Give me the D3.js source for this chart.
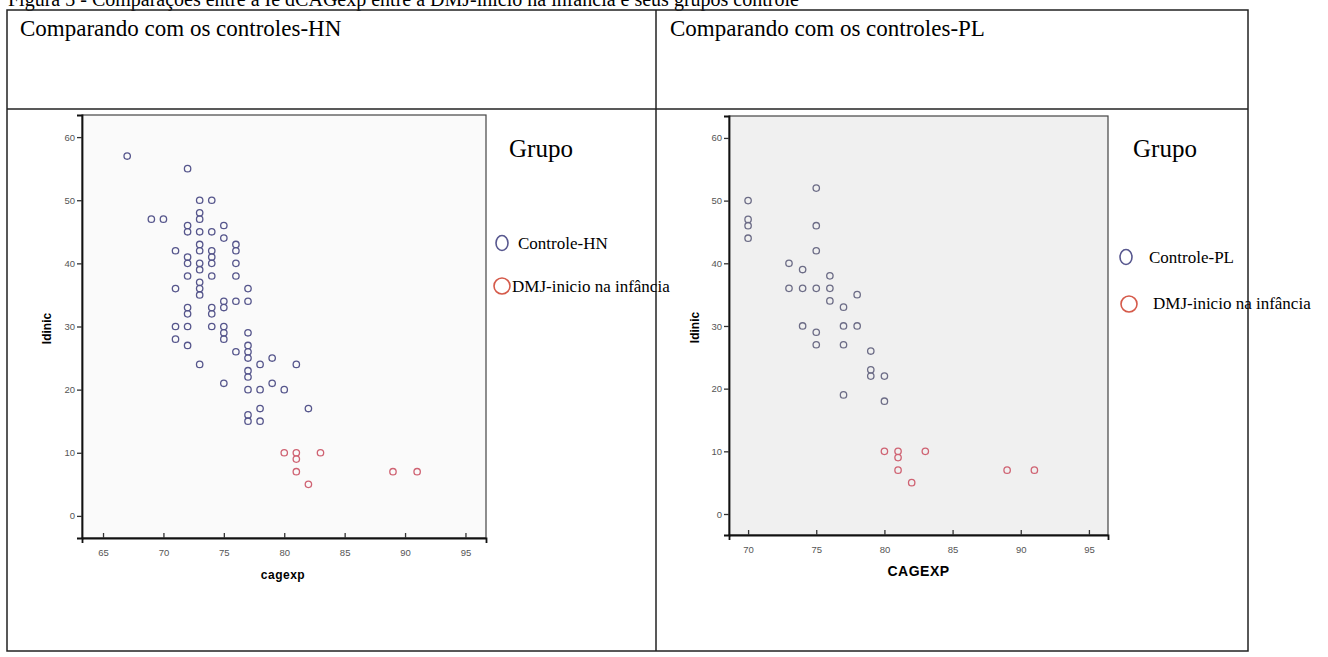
<!DOCTYPE html>
<html>
<head>
<meta charset="utf-8">
<script src="https://cdn.jsdelivr.net/npm/d3@7"></script>
<style>
	body { margin:0; background:#fff; }
	svg { display:block; }
</style>
</head>
<body>
<svg id="fig" width="1328" height="657"></svg>
<script>
// values
const hnControlCagexp = [67,72,73,74,69,70,73,73,72,72,73,74,75,75,71,72,72,73,73,73,73,74,74,74,72,73,73,73,74,76,76,76,76,71,77,75,75,76,77,72,72,74,74,71,72,74,75,75,75,71,72,77,76,77,77,77,73,78,79,81,77,77,75,77,78,79,80,78,82,77,77,78];
const hnControlIdinic = [57,55,50,50,47,47,48,47,46,45,45,45,46,44,42,41,40,43,42,40,39,42,41,40,38,37,36,35,38,43,42,40,38,36,36,34,33,34,34,33,32,33,32,30,30,30,30,29,28,28,27,29,26,27,26,25,24,24,25,24,23,22,21,20,20,21,20,17,17,16,15,15];

const plControlCagexp = [70,70,70,70,75,75,75,73,74,76,73,74,75,76,76,78,77,74,77,78,75,75,77,79,79,79,80,77,80];
const plControlIdinic = [50,47,46,44,52,46,42,40,39,38,36,36,36,36,34,35,33,30,30,30,29,27,27,26,23,22,22,19,18];

const dmjCagexp = [80,81,81,83,81,82,89,91];
const dmjIdinic = [10,10,9,10,7,5,7,7];

const yTicks = [0,10,20,30,40,50,60];
const xTicksHN = [65,70,75,80,85,90,95];
const xTicksPL = [70,75,80,85,90,95];

const captionText = "Figura 3 - Comparações entre a Ie dCAGexp entre a DMJ-início na infância e seus grupos controle";
const panelTitles = ["Comparando com os controles-HN","Comparando com os controles-PL"];
const legendTitle = "Grupo";
const legendHN = ["Controle-HN","DMJ-inicio na infância"];
const legendPL = ["Controle-PL","DMJ-inicio na infância"];

(function () {
	let svg = d3.select("#fig");
	let serif = "'Liberation Serif','Times New Roman',serif";
	let sans = "Arial,'Liberation Sans',sans-serif";

	// caption, cut off by the top of the page as in the scan
	svg.append("text")
		.attr("x",8).attr("y",6)
		.style("font-family",serif).style("font-size","20px")
		.text(captionText);

	// table grid
	let table = {left:7, top:10, right:1248, bottom:651, header:109, mid:656};
	svg.append("rect")
		.attr("x",table.left).attr("y",table.top)
		.attr("width",table.right-table.left).attr("height",table.bottom-table.top)
		.attr("fill","none").attr("stroke","#222").attr("stroke-width",1.5);
	svg.append("line")
		.attr("x1",table.left).attr("x2",table.right)
		.attr("y1",table.header).attr("y2",table.header)
		.attr("stroke","#222").attr("stroke-width",1.5);
	svg.append("line")
		.attr("x1",table.mid).attr("x2",table.mid)
		.attr("y1",table.top).attr("y2",table.bottom)
		.attr("stroke","#222").attr("stroke-width",1.5);

	svg.selectAll(".panelTitle")
		.data(panelTitles)
		.enter()
		.append("text")
		.attr("class","panelTitle")
		.attr("x",function(d,i){ return i==0 ? 20 : 670; })
		.attr("y",36)
		.style("font-family",serif).style("font-size","23px")
		.text(function(d){ return d; });

	function drawPanel(cfg){
		let x = d3.scaleLinear().domain(cfg.xDomain).range([cfg.left,cfg.right]);
		let y = d3.scaleLinear().domain(cfg.yDomain).range([cfg.bottom,cfg.top]);

		svg.append("rect")
			.attr("x",cfg.left).attr("y",cfg.top)
			.attr("width",cfg.right-cfg.left).attr("height",cfg.bottom-cfg.top)
			.attr("fill",cfg.bg).attr("stroke","#444").attr("stroke-width",1.2);

		let yAxis = svg.append("g")
			.attr("transform","translate("+cfg.left+",0)")
			.call(d3.axisLeft(y).tickValues(yTicks).tickSize(5).tickPadding(2));
		let xAxis = svg.append("g")
			.attr("transform","translate(0,"+cfg.bottom+")")
			.call(d3.axisBottom(x).tickValues(cfg.xTicks).tickSize(5).tickPadding(4));
		for(let ax of [yAxis,xAxis]){
			ax.select(".domain").attr("stroke","#111").attr("stroke-width",1.8);
			ax.selectAll(".tick line").attr("stroke","#333").attr("stroke-width",1.3);
			ax.selectAll(".tick text")
				.style("font-family",sans).style("font-size","9.5px").attr("fill","#555");
		}
		yAxis.selectAll(".tick line").attr("x2",-5);
		xAxis.selectAll(".tick line").attr("y1",-5).attr("y2",0);
		xAxis.selectAll(".tick text").attr("dy","0.9em");

		svg.append("text")
			.attr("transform","translate("+cfg.yLabelX+","+((cfg.top+cfg.bottom)/2+2)+") rotate(-90)")
			.attr("text-anchor","middle")
			.style("font-family",sans).style("font-size","12px").style("font-weight","bold")
			.text("Idinic");
		svg.append("text")
			.attr("x",(cfg.left+cfg.right)/2 + cfg.xLabelShift).attr("y",cfg.xLabelY)
			.attr("text-anchor","middle")
			.style("font-family",sans).style("font-size",cfg.xLabelSize).style("font-weight","bold")
			.style("letter-spacing","0.5px")
			.text(cfg.xLabel);

		svg.append("g").selectAll("circle")
			.data(d3.range(cfg.ctrlX.length))
			.enter()
			.append("circle")
			.attr("cx",function(i){ return x(cfg.ctrlX[i]); })
			.attr("cy",function(i){ return y(cfg.ctrlY[i]); })
			.attr("r",3.2)
			.attr("fill","none").attr("stroke",cfg.ctrlColor).attr("stroke-width",1.3);
		svg.append("g").selectAll("circle")
			.data(d3.range(dmjCagexp.length))
			.enter()
			.append("circle")
			.attr("cx",function(i){ return x(dmjCagexp[i]); })
			.attr("cy",function(i){ return y(dmjIdinic[i]); })
			.attr("r",3.2)
			.attr("fill","none").attr("stroke","#cf6272").attr("stroke-width",1.3);

		// legend
		let lg = cfg.legend;
		svg.append("text")
			.attr("x",lg.x).attr("y",lg.titleY)
			.style("font-family",serif).style("font-size","25px")
			.text(legendTitle);
		svg.append("ellipse")
			.attr("cx",lg.c1[0]).attr("cy",lg.c1[1]).attr("rx",6).attr("ry",7.5)
			.attr("fill","none").attr("stroke","#58588f").attr("stroke-width",1.6);
		svg.append("ellipse")
			.attr("cx",lg.c2[0]).attr("cy",lg.c2[1]).attr("rx",8).attr("ry",8)
			.attr("fill","none").attr("stroke","#d55a4a").attr("stroke-width",1.6);
		svg.selectAll(".lg"+cfg.id)
			.data(lg.labels)
			.enter()
			.append("text")
			.attr("class","lg"+cfg.id)
			.attr("x",function(d,i){ return lg.tx[i]; })
			.attr("y",function(d,i){ return lg.ty[i]; })
			.style("font-family",serif).style("font-size","17px")
			.text(function(d){ return d; });
	}

	drawPanel({
		id:"HN", left:82, right:486, top:115, bottom:538,
		xDomain:[63.26,96.7], yDomain:[-3.5,63.5], xTicks:xTicksHN,
		bg:"#fafafa", ctrlX:hnControlCagexp, ctrlY:hnControlIdinic, ctrlColor:"#56568c",
		yLabelX:51, xLabel:"cagexp", xLabelY:579, xLabelSize:"12px", xLabelShift:-1,
		legend:{x:509, titleY:157, c1:[502,243], c2:[502,286],
			labels:legendHN, tx:[518,512], ty:[249,292]}
	});
	drawPanel({
		id:"PL", left:729, right:1108, top:116, bottom:535,
		xDomain:[68.6,96.4], yDomain:[-3.35,63.5], xTicks:xTicksPL,
		bg:"#f0f0f0", ctrlX:plControlCagexp, ctrlY:plControlIdinic, ctrlColor:"#6c6c86",
		yLabelX:699, xLabel:"CAGEXP", xLabelY:576, xLabelSize:"14px", xLabelShift:0,
		legend:{x:1133, titleY:157, c1:[1126,257], c2:[1129,304],
			labels:legendPL, tx:[1149,1153], ty:[263,309]}
	});
})();
</script>
</body>
</html>
